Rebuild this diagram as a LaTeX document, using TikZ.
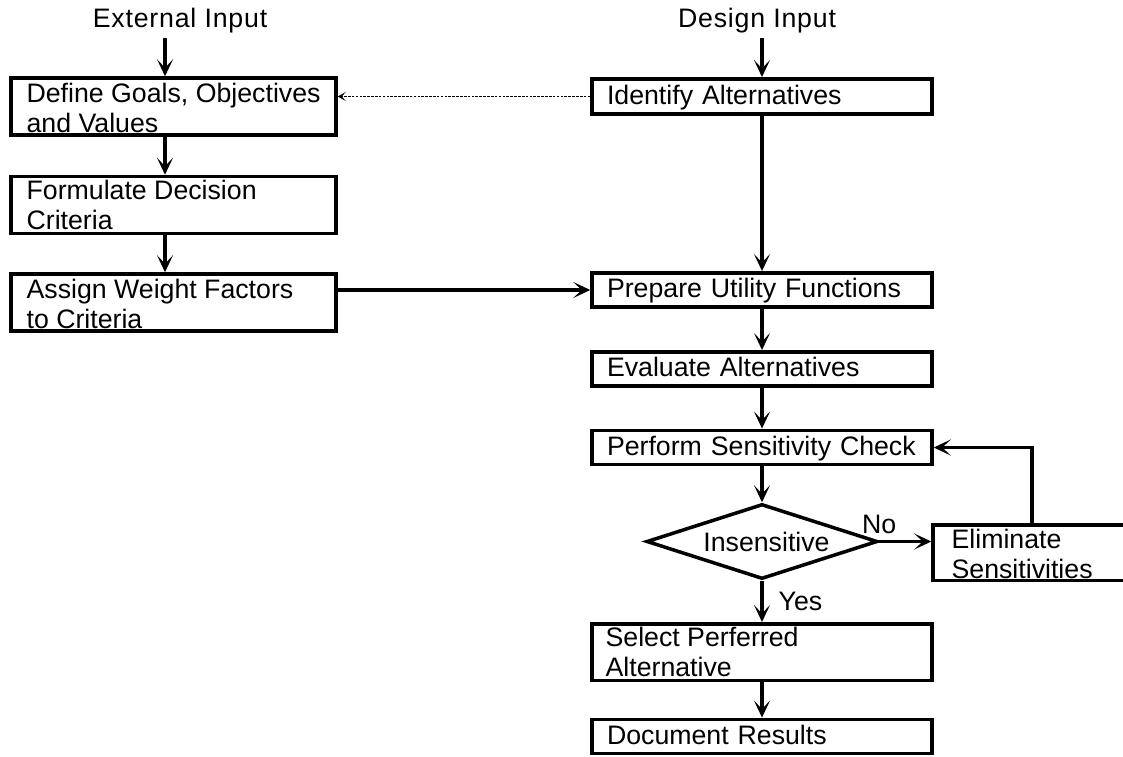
\documentclass[tikz,border=0pt]{standalone}
\usepackage{fontspec}
\setmainfont{Liberation Sans}
\usepackage{tikz}
\usetikzlibrary{shapes.geometric}
\usetikzlibrary{arrows.meta}

\newcommand{\flowfont}{\fontsize{15.2pt}{17.07pt}\selectfont}

\begin{document}
\begin{tikzpicture}[
      flow_arrow/.style={line width=2pt,-{Stealth[length=0.34cm,width=0.32cm,inset=0.17cm]}},
      hint_arrow/.style={line width=0.5pt,dash pattern=on 1.5pt off 0.7pt,-{Stealth[length=0.16cm,width=0.18cm,inset=0.08cm]}},
      left_box/.style={draw,line width=2pt,minimum width=6.5cm,minimum height=1.14cm,inner sep=0pt},
      right_box/.style={draw,line width=2pt,minimum width=6.8cm,text width=6.2cm,inner xsep=0.3cm,align=left,minimum height=0.68cm,text height=10.9pt,text depth=2pt,font=\flowfont},
      box_text/.style={anchor=north west,align=left,inner sep=0pt,font=\flowfont},
      title_text/.style={font={\flowfont\addfontfeature{LetterSpace=3}},inner sep=0.1cm},
      side_text/.style={font=\flowfont}
    ]

    % ------------------------------------------------------------------ %
    % Page frame
    % ------------------------------------------------------------------ %

    \useasboundingbox (0cm,0cm) rectangle (22.46cm,-15.12cm);
    \clip (0cm,0cm) rectangle (22.46cm,-15.12cm);


    % ------------------------------------------------------------------ %
    % Inputs
    % ------------------------------------------------------------------ %

    \node[title_text] (extin) at (3.6cm,-0.41cm) {External Input};
    \node[title_text] (designin) at (15.14cm,-0.41cm) {Design Input};
    \coordinate (lcol) at (3.3cm,0cm);

    % ------------------------------------------------------------------ %
    % Left column
    % ------------------------------------------------------------------ %

    \node[left_box] (define) at (3.47cm,-2.13cm) {};
    \node[box_text] (define_txt) at ([xshift=0.34cm,yshift=-0.14cm]define.north west) {Define Goals, Objectives\\and Values};

    \node[left_box] (formulate) at (3.47cm,-4.10cm) {};
    \node[box_text] (formulate_txt) at ([xshift=0.34cm,yshift=-0.11cm]formulate.north west) {Formulate Decision\\Criteria};

    \node[left_box] (assign) at (3.47cm,-6.05cm) {};
    \node[box_text] (assign_txt) at ([xshift=0.34cm,yshift=-0.13cm]assign.north west) {Assign Weight Factors\\to Criteria};

    % ------------------------------------------------------------------ %
    % Right column
    % ------------------------------------------------------------------ %

    \node[right_box,minimum height=0.71cm] (identify) at (15.24cm,-1.93cm) {Identify Alternatives};
    \node[right_box] (prepare) at (15.24cm,-5.80cm) {Prepare Utility Functions};
    \node[right_box] (evaluate) at (15.24cm,-7.38cm) {Evaluate Alternatives};
    \node[right_box] (perform) at (15.24cm,-8.95cm) {Perform Sensitivity Check};

    % decision
    \node[draw,diamond,aspect=3.08,line width=2pt,minimum width=4.62cm,minimum height=1.5cm,inner sep=0pt,font=\flowfont] (check) at (15.24cm,-10.83cm) {\hspace{0.18cm}Insensitive};

    % box runs off the right edge
    \node[draw,line width=2pt,minimum width=3.96cm,minimum height=1.11cm] (elim) at (20.64cm,-11.05cm) {};
    \node[box_text] (elim_txt) at ([xshift=0.4cm,yshift=-0.12cm]elim.north west) {Eliminate\\Sensitivities};

    \node[right_box,minimum height=1.13cm] (select) at (15.24cm,-13.04cm) {};
    \node[box_text] (select_txt) at ([xshift=0.3cm,yshift=-0.1cm]select.north west) {Select Perferred\\Alternative};

    \node[right_box] (document) at (15.24cm,-14.73cm) {Document Results};

    % ------------------------------------------------------------------ %
    % Connectors
    % ------------------------------------------------------------------ %

    \draw[flow_arrow] (extin.south -| lcol) -- (define.north -| lcol);
    \draw[flow_arrow] (define.south -| lcol) -- (formulate.north -| lcol);
    \draw[flow_arrow] (formulate.south -| lcol) -- (assign.north -| lcol);
    \draw[flow_arrow] (assign.east |- prepare.west) -- (prepare.west);

    \draw[hint_arrow] (identify.west) -- (identify.west -| define.east);

    \draw[flow_arrow] (designin.south -| identify.north) -- (identify.north);
    \draw[flow_arrow] (identify.south) -- (prepare.north);
    \draw[flow_arrow] (prepare.south) -- (evaluate.north);
    \draw[flow_arrow] (evaluate.south) -- (perform.north);
    \draw[flow_arrow] (perform.south) -- (check.north);
    \draw[flow_arrow] (check.south) -- node[side_text,right=0.18cm] (yes) {Yes} (select.north);
    \draw[flow_arrow] (check.east) -- node[side_text,at start,above] (no) {No} (check.east -| elim.west);
    \draw[flow_arrow] (elim.north) |- (perform.east);
    \draw[flow_arrow] (select.south) -- (document.north);

    \end{tikzpicture}
\end{document}
